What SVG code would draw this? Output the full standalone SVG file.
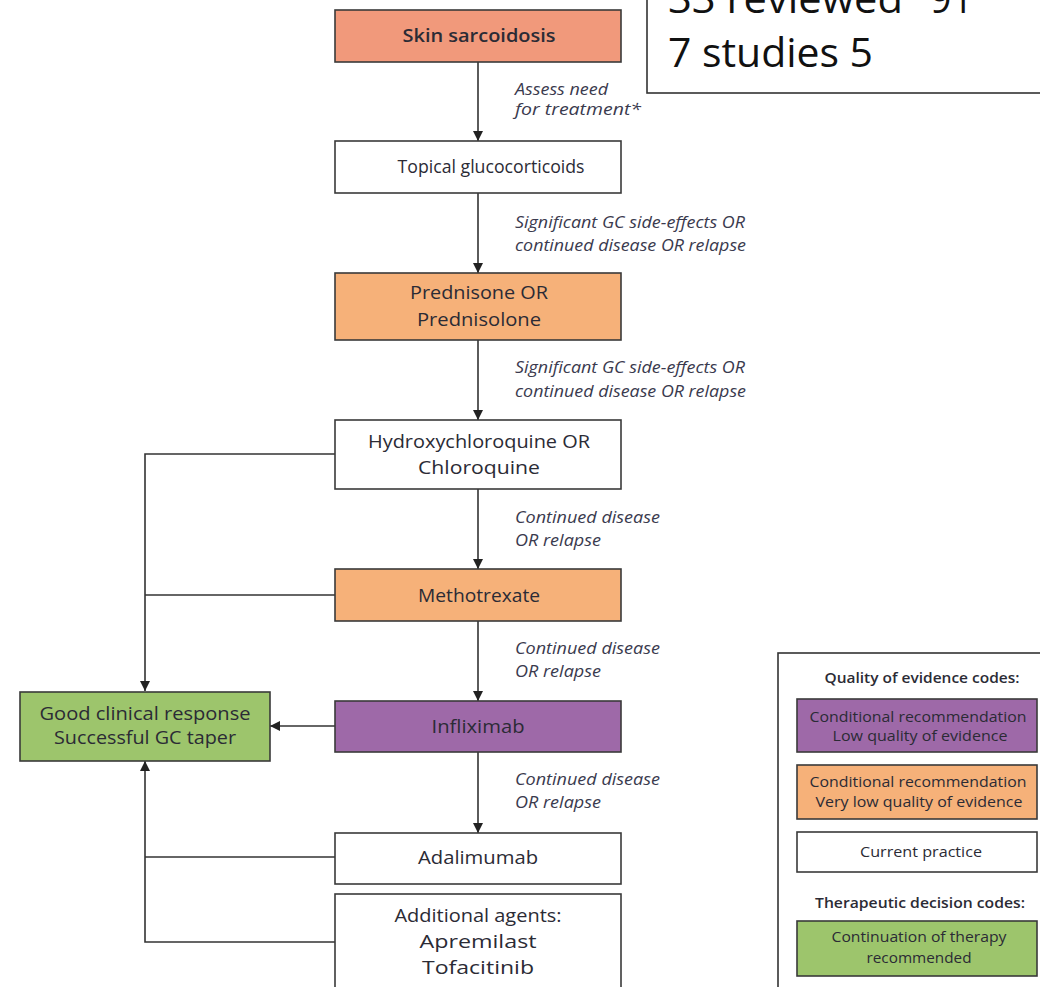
<svg xmlns="http://www.w3.org/2000/svg" width="1040" height="987" viewBox="0 0 1040 987">
  <style>
    .box { stroke: #3a3a3a; stroke-width: 1.6; }
    .white { fill: #ffffff; }
    .salmon { fill: #f1997b; }
    .orange { fill: #f6b179; }
    .purple { fill: #9e69a8; }
    .green { fill: #9dc56c; }
    .t { font-family: "Open Sans", "Noto Sans", sans-serif; font-size: 17.5px; fill: #2b2b35; text-anchor: middle; }
    .b { font-weight: 600; }
    .lbl { font-family: "Open Sans", "Noto Sans", sans-serif; font-size: 15.5px; font-style: italic; fill: #3a3a4e; }
    .leg { font-family: "Open Sans", "Noto Sans", sans-serif; font-size: 14px; fill: #2b2b35; text-anchor: middle; }
    .legh { font-family: "Open Sans", "Noto Sans", sans-serif; font-size: 14px; font-weight: 600; fill: #2b2b35; text-anchor: middle; }
    .big { font-family: "Open Sans", "Noto Sans", sans-serif; font-size: 41px; fill: #111111; }
    .wire { fill: none; stroke: #333333; stroke-width: 1.6; }
  </style>
  <defs>
    <marker id="arrow" viewBox="0 0 10 10" refX="10" refY="5" markerWidth="10" markerHeight="10" markerUnits="userSpaceOnUse" orient="auto">
      <path d="M0,0 L10,5 L0,10 Z" fill="#222222"/>
    </marker>
  </defs>

  <!-- study count note, top right -->
  <g id="note">
    <rect x="647" y="-20" width="420" height="113" fill="#ffffff" stroke="#333333" stroke-width="1.6"/>
    <text class="big" x="668" y="13" textLength="235" lengthAdjust="spacingAndGlyphs">33 reviewed</text>
    <text class="big" x="930" y="13" textLength="43" lengthAdjust="spacingAndGlyphs">91</text>
    <text class="big" x="668" y="67" textLength="205" lengthAdjust="spacingAndGlyphs">7 studies 5</text>
  </g>

  <!-- connectors -->
  <g id="connectors" lengthAdjust="spacingAndGlyphs">
    <path class="wire" d="M478,62 V141" marker-end="url(#arrow)"/>
    <path class="wire" d="M478,193 V273" marker-end="url(#arrow)"/>
    <path class="wire" d="M478,340 V420" marker-end="url(#arrow)"/>
    <path class="wire" d="M478,489 V569" marker-end="url(#arrow)"/>
    <path class="wire" d="M478,621 V701" marker-end="url(#arrow)"/>
    <path class="wire" d="M478,752 V833" marker-end="url(#arrow)"/>
    <path class="wire" d="M335,454 H145 V691" marker-end="url(#arrow)"/>
    <path class="wire" d="M335,595 H145"/>
    <path class="wire" d="M335,726 H270" marker-end="url(#arrow)"/>
    <path class="wire" d="M335,942 H145 V761" marker-end="url(#arrow)"/>
    <path class="wire" d="M335,857 H145"/>
    <text class="lbl" x="515" y="95" textLength="93" lengthAdjust="spacingAndGlyphs">Assess need</text>
    <text class="lbl" x="515" y="115" textLength="126" lengthAdjust="spacingAndGlyphs">for treatment*</text>
    <text class="lbl" x="515" y="228" textLength="230" lengthAdjust="spacingAndGlyphs">Significant GC side-effects OR</text>
    <text class="lbl" x="515" y="251" textLength="231" lengthAdjust="spacingAndGlyphs">continued disease OR relapse</text>
    <text class="lbl" x="515" y="373" textLength="230" lengthAdjust="spacingAndGlyphs">Significant GC side-effects OR</text>
    <text class="lbl" x="515" y="397" textLength="231" lengthAdjust="spacingAndGlyphs">continued disease OR relapse</text>
    <text class="lbl" x="515" y="523" textLength="145" lengthAdjust="spacingAndGlyphs">Continued disease</text>
    <text class="lbl" x="515" y="546" textLength="86" lengthAdjust="spacingAndGlyphs">OR relapse</text>
    <text class="lbl" x="515" y="654" textLength="145" lengthAdjust="spacingAndGlyphs">Continued disease</text>
    <text class="lbl" x="515" y="677" textLength="86" lengthAdjust="spacingAndGlyphs">OR relapse</text>
    <text class="lbl" x="515" y="785" textLength="145" lengthAdjust="spacingAndGlyphs">Continued disease</text>
    <text class="lbl" x="515" y="808" textLength="86" lengthAdjust="spacingAndGlyphs">OR relapse</text>
  </g>

  <!-- treatment steps -->
  <g id="skin">
    <rect class="box salmon" x="335" y="10" width="286" height="52"/>
    <text class="t b" x="479" y="42" textLength="153" lengthAdjust="spacingAndGlyphs">Skin sarcoidosis</text>
  </g>
  <g id="topical">
    <rect class="box white" x="335" y="141" width="286" height="52"/>
    <text class="t" x="491" y="173" textLength="187" lengthAdjust="spacingAndGlyphs">Topical glucocorticoids</text>
  </g>
  <g id="prednisone">
    <rect class="box orange" x="335" y="273" width="286" height="67"/>
    <text class="t" x="479" y="299" textLength="138" lengthAdjust="spacingAndGlyphs">Prednisone OR</text>
    <text class="t" x="479" y="326" textLength="124" lengthAdjust="spacingAndGlyphs">Prednisolone</text>
  </g>
  <g id="hydroxychloroquine">
    <rect class="box white" x="335" y="420" width="286" height="69"/>
    <text class="t" x="479" y="448" textLength="222" lengthAdjust="spacingAndGlyphs">Hydroxychloroquine OR</text>
    <text class="t" x="479" y="474" textLength="122" lengthAdjust="spacingAndGlyphs">Chloroquine</text>
  </g>
  <g id="methotrexate">
    <rect class="box orange" x="335" y="569" width="286" height="52"/>
    <text class="t" x="479" y="602" textLength="122" lengthAdjust="spacingAndGlyphs">Methotrexate</text>
  </g>
  <g id="infliximab">
    <rect class="box purple" x="335" y="701" width="286" height="51"/>
    <text class="t" x="478" y="733" textLength="93" lengthAdjust="spacingAndGlyphs">Infliximab</text>
  </g>
  <g id="adalimumab">
    <rect class="box white" x="335" y="833" width="286" height="51"/>
    <text class="t" x="478" y="864" textLength="120" lengthAdjust="spacingAndGlyphs">Adalimumab</text>
  </g>
  <g id="additional">
    <rect class="box white" x="335" y="894" width="286" height="110"/>
    <text class="t" x="478" y="922" textLength="167" lengthAdjust="spacingAndGlyphs">Additional agents:</text>
    <text class="t" x="478" y="948" textLength="117" lengthAdjust="spacingAndGlyphs">Apremilast</text>
    <text class="t" x="478" y="974" textLength="112" lengthAdjust="spacingAndGlyphs">Tofacitinib</text>
  </g>
  <g id="response">
    <rect class="box green" x="20" y="692" width="250" height="69"/>
    <text class="t" x="145" y="720" textLength="211" lengthAdjust="spacingAndGlyphs">Good clinical response</text>
    <text class="t" x="145" y="744" textLength="182" lengthAdjust="spacingAndGlyphs">Successful GC taper</text>
  </g>

  <!-- legend -->
  <g id="legend">
    <rect x="778" y="653" width="300" height="360" fill="#ffffff" stroke="#333333" stroke-width="1.6"/>
    <text class="legh" x="922" y="683" textLength="195" lengthAdjust="spacingAndGlyphs">Quality of evidence codes:</text>
    <rect class="box purple" x="797" y="699" width="240" height="53"/>
    <text class="leg" x="918" y="722" textLength="217" lengthAdjust="spacingAndGlyphs">Conditional recommendation</text>
    <text class="leg" x="920" y="741" textLength="175" lengthAdjust="spacingAndGlyphs">Low quality of evidence</text>
    <rect class="box orange" x="797" y="765" width="240" height="54"/>
    <text class="leg" x="918" y="787" textLength="217" lengthAdjust="spacingAndGlyphs">Conditional recommendation</text>
    <text class="leg" x="919" y="807" textLength="207" lengthAdjust="spacingAndGlyphs">Very low quality of evidence</text>
    <rect class="box white" x="797" y="832" width="240" height="40"/>
    <text class="leg" x="921" y="857" textLength="122" lengthAdjust="spacingAndGlyphs">Current practice</text>
    <text class="legh" x="920" y="908" textLength="210" lengthAdjust="spacingAndGlyphs">Therapeutic decision codes:</text>
    <rect class="box green" x="797" y="921" width="240" height="55"/>
    <text class="leg" x="919" y="942" textLength="175" lengthAdjust="spacingAndGlyphs">Continuation of therapy</text>
    <text class="leg" x="919" y="963" textLength="105" lengthAdjust="spacingAndGlyphs">recommended</text>
  </g>
</svg>
